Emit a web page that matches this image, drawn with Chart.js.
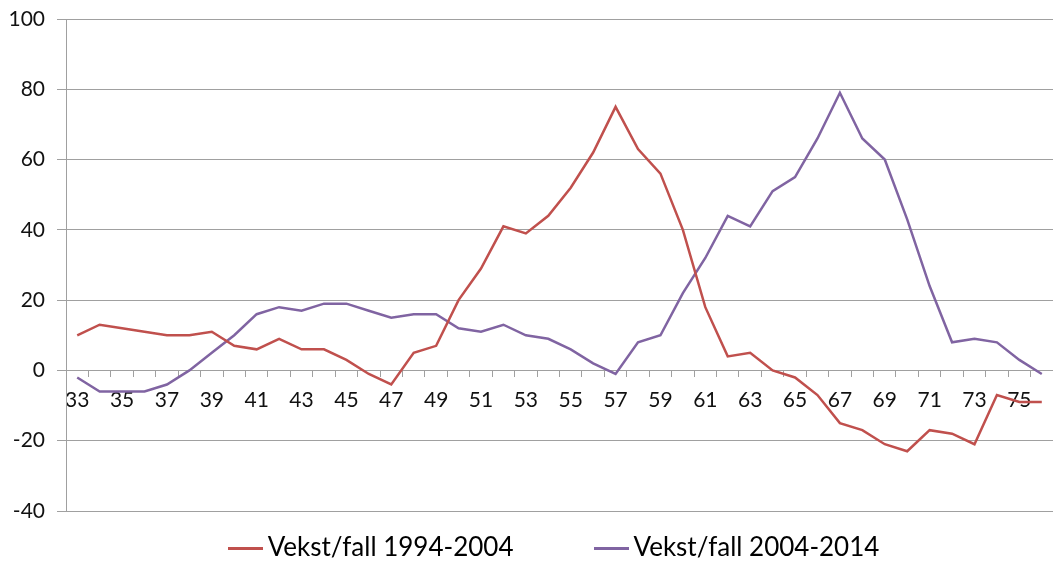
<!DOCTYPE html>
<html>
<head>
<meta charset="utf-8">
<script src="https://cdn.jsdelivr.net/npm/chart.js@4/dist/chart.umd.min.js"></script>
<style>
html,body{margin:0;padding:0;background:#fff;}
#wrap{position:relative;width:1053px;height:569px;}
#legend{position:absolute;left:27px;top:530px;width:1053px;text-align:center;font-family:Lato,'Open Sans',sans-serif;font-size:26px;color:#000;white-space:nowrap;}
#legend .item{display:inline-block;margin:0 40px;}
#legend .sw{display:inline-block;width:35px;height:3px;vertical-align:middle;margin-right:5px;position:relative;top:-1px;}
</style>
</head>
<body>
<div id="wrap"><canvas id="c" width="1053" height="569"></canvas><div id="legend"></div></div>
<script>
const ages = [33,34,35,36,37,38,39,40,41,42,43,44,45,46,47,48,49,50,51,52,53,54,55,56,57,58,59,60,61,62,63,64,65,66,67,68,69,70,71,72,73,74,75,76];
const vekst1994_2004 = [10,13,12,11,10,10,11,7,6,9,6,6,3,-1,-4,5,7,20,29,41,39,44,52,62,75,63,56,40,18,4,5,0,-2,-7,-15,-17,-21,-23,-17,-18,-21,-7,-9,-9];
const vekst2004_2014 = [-2,-6,-6,-6,-4,0,5,10,16,18,17,19,19,17,15,16,16,12,11,13,10,9,6,2,-1,8,10,22,32,44,41,51,55,66,79,66,60,43,24,8,9,8,3,-1];
const seriesNames = ['Vekst/fall 1994-2004','Vekst/fall 2004-2014'];
const seriesColors = ['#C0504D','#8064A2'];
const yTicks = [-40,-20,0,20,40,60,80,100];

const FONT = "Lato, 'Open Sans', sans-serif";
const chart = new Chart(document.getElementById('c'), {
  type: 'line',
  data: {
    labels: ages.map(String),
    datasets: [
      {label: seriesNames[0], data: vekst1994_2004, borderColor: seriesColors[0], backgroundColor: seriesColors[0], borderWidth: 2.5, pointRadius: 0, tension: 0},
      {label: seriesNames[1], data: vekst2004_2014, borderColor: seriesColors[1], backgroundColor: seriesColors[1], borderWidth: 2.5, pointRadius: 0, tension: 0}
    ]
  },
  options: {
    responsive: false,
    animation: false,
    devicePixelRatio: 1,
    layout: {padding: {top: 19, right: 0, left: 0, bottom: 58}},
    plugins: {
      legend: {display: false},
      tooltip: {enabled: false}
    },
    scales: {
      x: {
        position: {y: 0},
        offset: true,
        grid: {display: true, offset: true, drawOnChartArea: false, drawTicks: true, tickLength: 6, color: '#a0a0a0'},
        border: {display: true, color: '#a0a0a0', width: 1},
        ticks: {
          autoSkip: false, maxRotation: 0, minRotation: 0, padding: 11,
          font: {family: FONT, size: 21}, color: '#111',
          callback: function(v, i) { return i % 2 === 0 ? this.getLabelForValue(v) : ''; }
        }
      },
      y: {
        min: -40, max: 100,
        afterBuildTicks: s => { s.ticks = yTicks.map(v => ({value: v})); },
        afterFit: s => { s.width = 66; s.paddingTop = 0; s.paddingBottom = 0; },
        grid: {color: '#a0a0a0', drawTicks: true, tickLength: 9},
        border: {display: true, color: '#a0a0a0'},
        ticks: {font: {family: FONT, size: 21}, color: '#111', padding: 12}
      }
    }
  }
});

const legendEl = document.getElementById('legend');
chart.data.datasets.forEach(ds => {
  const item = document.createElement('span');
  item.className = 'item';
  const sw = document.createElement('span');
  sw.className = 'sw';
  sw.style.background = ds.borderColor;
  item.appendChild(sw);
  item.appendChild(document.createTextNode(ds.label));
  legendEl.appendChild(item);
});
</script>
</body>
</html>
